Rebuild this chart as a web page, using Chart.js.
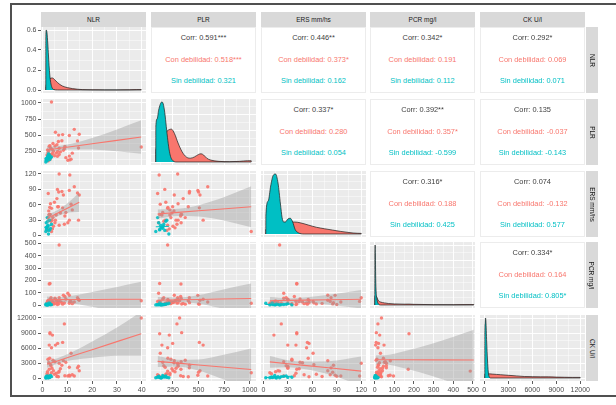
<!DOCTYPE html>
<html>
<head>
<meta charset="utf-8">
<script src="https://cdn.jsdelivr.net/npm/chart.js@4.4.1/dist/chart.umd.min.js"></script>
<style>
  html, body { margin: 0; padding: 0; background: #fff; width: 616px; height: 405px; overflow: hidden;
    font-family: "Liberation Sans", Arial, sans-serif; }
  #frame { position: absolute; left: 10px; top: 3px; width: 640px; height: 394px;
    border: 2px solid #505050; box-sizing: border-box; }
  canvas { position: absolute; }
  .strip { position: absolute; background: #D9D9D9; color: #1A1A1A; font-size: 6.5px;
    display: flex; align-items: center; justify-content: center; white-space: nowrap; }
  .strip.right span { display: block; transform: rotate(90deg); }
  .cor { position: absolute; background: #fff; border: 1px solid #ECECEC; box-sizing: border-box; }
  .cor div { position: absolute; left: 0; right: 0; text-align: center; font-size: 7.4px;
    line-height: 8px; white-space: nowrap; }
</style>
</head>
<body>
<div id="frame"></div>
<script>
// ---------------- data ----------------
const varNames = ['NLR', 'PLR', 'ERS mm/hs', 'PCR mg/l', 'CK U/l'];
const groupNames = ['Con debilidad', 'Sin debilidad'];

// patients "Con debilidad"
const conNLR = [39.8, 3.6, 8.8, 6.7, 2.7, 3.0, 4.0, 2.7, 3.6, 6.1, 8.1, 11.5, 14.5, 14.1, 12.8, 14.8, 10.8, 6.5, 6.7, 7.8, 8.4, 6.4, 10.8, 9.4, 10.2, 11.0, 2.2, 2.5, 3.2, 3.8, 4.4, 5.0, 5.5, 4.8, 2.9, 3.4, 5.8, 7.2, 4.2, 2.0, 9.0, 12.0, 6.0, 1.8, 3.0, 2.3, 5.2];
const conPLR = [315, 1015, 289, 198, 328, 335, 214, 142, 198, 247, 508, 126, 300, 410, 590, 514, 493, 500, 296, 412, 263, 400, 174, 150, 110, 115, 230, 260, 300, 280, 250, 330, 220, 180, 200, 160, 350, 240, 370, 270, 325, 220, 170, 190, 120, 100, 545];
const conERS = [null, 8, 22, 20, 41, 41, 13, 40, 53, 56, 54, 61, 30, 83, 95, 79, 88, 85, 120, 86, 79, 56, 30, 45, 25, 118, 35, 48, 62, 30, 18, 25, 40, 65, 55, 28, 72, 44, 35, 15, 38, 50, 90, 10, 41, 82, 30];
const conPCR = [35, 15, 17, 486, 171, 9, 26, 5, 17, 20, 8, 30, 45, 60, 25, 40, 79, 10, 60, 20, 80, 35, 15, 50, 96, 30, 12, 25, 18, 40, 22, 55, 30, 10, 45, 60, 14, 28, 8, 33, 70, 12, 5, 20, 175, 30, 48];
const conCK = [12000, 1100, 10830, 1430, 1800, 9080, 8600, 6610, 6090, 6950, 7140, 5000, 2400, 2080, 450, 1500, 600, 1200, 3000, 2600, 3500, 300, 2200, 3200, 450, 450, 3800, 3100, 2700, 2000, 1500, 3300, 1000, 800, 4000, 2500, 350, 1900, 3600, 1300, 500, 700, 400, 900, 8880, 700, 6610];

// patients "Sin debilidad"
const sinNLR = [1.3, 1.6, 1.8, 2.0, 2.2, 2.5, 1.5, 2.8, 3.2, 1.9, 2.4, 3.6, 1.4, 2.1, 2.9];
const sinPLR = [82, 120, 140, 155, 130, 170, 110, 190, 150, 100, 210, 160, 135, 180, 120];
const sinERS = [8, 12, 15, 18, 20, 10, 25, 30, 14, 35, 3, 22, 16, 28, 11];
const sinPCR = [2, 4, 3, 6, 1, 8, 5, 12, 3, 2, 15, 4, 9, 7, 18];
const sinCK = [120, 200, 150, 300, 90, 250, 400, 180, 550, 220, 100, 330, 60, 480, 140];

// axis breaks
const ticksNLR = [0, 10, 20, 30, 40];
const ticksPLR = [250, 500, 750, 1000];
const ticksERS = [0, 30, 60, 90, 120];
const ticksPCR = [0, 100, 200, 300, 400, 500];
const ticksCK = [0, 3000, 6000, 9000, 12000];
const ticksDensityNLR = [0, 0.2, 0.4, 0.6];

// kernel density curves [x, density]
const densNLRcon = [[1.3,0],[1.31,0.02],[1.8,0.06],[2.3,0.09],[3,0.115],[4,0.12],[5,0.1],[6,0.075],[7,0.055],[8,0.04],[10,0.024],[12,0.014],[14,0.008],[16,0.004],[20,0.002],[25,0.001],[30,0.001],[35,0.002],[38,0.004],[39.8,0.004],[39.81,0]];
const densNLRsin = [[1.3,0],[1.31,0.5],[1.5,0.6],[1.8,0.57],[2.1,0.47],[2.4,0.34],[2.7,0.22],[3.0,0.13],[3.4,0.06],[3.9,0.02],[4.5,0.005],[6,0],[39.8,0]];
const densPLRcon = [[82,0],[82.1,0.0018],[120,0.003],[160,0.0042],[200,0.005],[235,0.0052],[265,0.0045],[300,0.003],[340,0.0016],[380,0.0008],[420,0.0006],[460,0.0008],[500,0.0012],[525,0.0013],[550,0.0011],[580,0.0006],[620,0.0003],[700,0.0001],[800,0.00005],[900,0.0001],[980,0.0002],[1015,0.0002],[1015.1,0]];
const densPLRsin = [[82,0],[82.1,0.0055],[95,0.0068],[110,0.0082],[125,0.0091],[140,0.0095],[155,0.0092],[170,0.0078],[185,0.0056],[200,0.0034],[215,0.0017],[230,0.0007],[250,0.0002],[280,0],[1015,0]];
const densERScon = [[3,0],[3.1,0.003],[10,0.004],[20,0.006],[30,0.0075],[38,0.008],[45,0.0075],[55,0.006],[65,0.0045],[75,0.0035],[85,0.0026],[95,0.0017],[105,0.001],[115,0.0005],[120,0.0004],[120.1,0]];
const densERSsin = [[3,0],[3.1,0.012],[6,0.022],[9,0.032],[12,0.039],[15,0.04],[18,0.034],[21,0.02],[23,0.011],[25,0.008],[27,0.008],[30,0.01],[33,0.0105],[36,0.008],[39,0.003],[43,0.0008],[50,0],[120,0]];
const densPCRcon = [[1,0],[1.1,0.012],[5,0.016],[10,0.014],[15,0.01],[20,0.007],[30,0.005],[40,0.004],[50,0.0035],[70,0.0025],[100,0.0018],[150,0.0014],[175,0.0015],[200,0.0011],[300,0.0006],[400,0.0005],[480,0.0007],[504,0.0007],[504.1,0]];
const densPCRsin = [[1,0],[1.1,0.06],[2,0.095],[3,0.1],[4,0.085],[6,0.04],[8,0.022],[12,0.01],[16,0.004],[22,0.001],[30,0],[504,0]];
const densCKcon = [[60,0],[61,0.00012],[500,0.00014],[1000,0.00013],[1500,0.00012],[2000,0.00011],[3000,0.00009],[4000,0.00007],[5000,0.00005],[6000,0.000045],[7000,0.00004],[8000,0.00004],[9000,0.00003],[10000,0.000025],[11000,0.00002],[12000,0.00002],[12000.1,0]];
const densCKsin = [[60,0],[61,0.0013],[100,0.0018],[150,0.002],[200,0.0019],[300,0.0012],[400,0.0006],[500,0.0002],[600,0.00005],[800,0],[12000,0]];

// linear fits, "Con debilidad": [x, fitted, lower 95%, upper 95%]
const smoothNLR_PLR = [[1.8,269,219,319],[6,291,256,326],[12,323,278,368],[20,365,275,455],[30,418,248,588],[39.8,470,210,730]];
const smoothNLR_ERS = [[1.8,33,24,42],[5,41,35,47],[8,48.3,41.3,55.3],[11,55.7,44.7,66.7],[14.8,65,46,84]];
const smoothNLR_PCR = [[1.8,44,19,69],[6,44.5,26.5,62.5],[12,45,15,75],[20,46,-14,106],[30,47,-53,147],[39.8,48,-92,188]];
const smoothNLR_CK = [[1.8,2785,2085,3485],[6,3460,2910,4010],[12,4420,3620,5220],[20,5700,4100,7300],[30,7300,4500,10100],[39.8,8870,4470,13270]];
const smoothPLR_ERS = [[100,42,33,51],[300,45.2,38.2,52.2],[500,48.2,37.2,59.2],[700,51.2,31.2,71.2],[1015,56,16,96]];
const smoothPLR_PCR = [[100,40,15,65],[300,43,25,61],[500,46,11,81],[700,49,-21,119],[1015,54,-66,174]];
const smoothPLR_CK = [[100,3360,2260,4460],[300,3016,2316,3716],[500,2662,1562,3762],[700,2308,108,4508],[1015,1750,-2450,5950]];
const smoothERS_PCR = [[8,35,5,65],[30,38,20,56],[50,40.5,18.5,62.5],[80,44,4,84],[120,48,-27,123]];
const smoothERS_CK = [[8,3270,2120,4420],[30,2910,2210,3610],[50,2580,1830,3330],[80,2090,790,3390],[120,1430,-1470,4330]];
const smoothPCR_CK = [[5,3700,2800,4600],[50,3690,2790,4590],[150,3680,1980,5380],[300,3660,360,6960],[504,3640,-2360,9640]];

// linear fits, "Sin debilidad": [x, fitted]
const sinFitNLR_PLR = [[1.3,115],[3.6,185]];
const sinFitNLR_ERS = [[1.3,16],[3.6,20]];
const sinFitNLR_PCR = [[1.3,5],[3.6,8]];
const sinFitNLR_CK = [[1.3,200],[3.6,280]];
const sinFitPLR_ERS = [[82,17],[210,18]];
const sinFitPLR_PCR = [[82,12],[210,2]];
const sinFitPLR_CK = [[82,260],[210,200]];
const sinFitERS_PCR = [[3,5],[35,9]];
const sinFitERS_CK = [[3,150],[35,420]];
const sinFitPCR_CK = [[1,150],[18,480]];

// correlations (upper triangle): [row, column]
const corrPairs = [[0,1],[0,2],[0,3],[0,4],[1,2],[1,3],[1,4],[2,3],[2,4],[3,4]];
const corrAll = ['0.591***','0.446**','0.342*','0.292*','0.337*','0.392**','0.135','0.316*','0.074','0.334*'];
const corrCon = ['0.518***','0.373*','0.191','0.069','0.280','0.357*','-0.037','0.188','-0.132','0.164'];
const corrSin = ['0.321','0.162','0.112','0.071','0.054','-0.599','-0.143','0.425','0.577','0.805*'];

// ---------------- tables built from the arrays ----------------
const conData = [conNLR, conPLR, conERS, conPCR, conCK];
const sinData = [sinNLR, sinPLR, sinERS, sinPCR, sinCK];
const majorTicks = [ticksNLR, ticksPLR, ticksERS, ticksPCR, ticksCK];
const densCon = [densNLRcon, densPLRcon, densERScon, densPCRcon, densCKcon];
const densSin = [densNLRsin, densPLRsin, densERSsin, densPCRsin, densCKsin];
const smoothTable = {
  '0_1': smoothNLR_PLR, '0_2': smoothNLR_ERS, '0_3': smoothNLR_PCR, '0_4': smoothNLR_CK,
  '1_2': smoothPLR_ERS, '1_3': smoothPLR_PCR, '1_4': smoothPLR_CK,
  '2_3': smoothERS_PCR, '2_4': smoothERS_CK, '3_4': smoothPCR_CK
};
const sinFitTable = {
  '0_1': sinFitNLR_PLR, '0_2': sinFitNLR_ERS, '0_3': sinFitNLR_PCR, '0_4': sinFitNLR_CK,
  '1_2': sinFitPLR_ERS, '1_3': sinFitPLR_PCR, '1_4': sinFitPLR_CK,
  '2_3': sinFitERS_PCR, '2_4': sinFitERS_CK, '3_4': sinFitPCR_CK
};

// ---------------- layout ----------------
const COL_LEFT = [41, 151, 261, 370, 480];
const ROW_TOP = [27, 99, 171, 242, 315];
const PANEL_W = 105, PANEL_H = 66;
const AXIS_Y_W = 30, AXIS_X_H = 16, PAD = 10;
const RED = '#F8766D', TEAL = '#00BFC4';
const FONT = '"Liberation Sans", Arial, sans-serif';

function dataRange(k) {
  const all = conData[k].concat(sinData[k]).filter(v => v != null);
  const lo = Math.min(...all), hi = Math.max(...all), r = hi - lo;
  return [lo - 0.05 * r, hi + 0.05 * r];
}
const ranges = [0, 1, 2, 3, 4].map(dataRange);

const key = v => Math.round(v * 1e6);

function tickList(majors, min, max) {
  const step = majors[1] - majors[0], out = [];
  for (let k = -4; k <= (majors.length - 1) * 2 + 4; k++) {
    const v = Math.round((majors[0] + k * step / 2) * 1e6) / 1e6;
    if (v >= min && v <= max) out.push({ value: v, major: k % 2 === 0 });
  }
  return out;
}

function niceMajors(max) {
  const raw = max / 3, mag = Math.pow(10, Math.floor(Math.log10(raw)));
  const f = raw / mag;
  const step = (f < 1.5 ? 1 : f < 3 ? 2 : f < 4 ? 2.5 : f < 7 ? 5 : 10) * mag;
  const out = [];
  for (let n = 0; n * step <= max * 1.05; n++) out.push(Math.round(n * step * 1e9) / 1e9);
  return out;
}

function axis(pos, min, max, majors, showLabels, fmt) {
  const list = tickList(majors, min, max);
  const majorSet = new Set(list.filter(t => t.major).map(t => key(t.value)));
  const isMajor = c => c && c.tick && majorSet.has(key(c.tick.value));
  return {
    type: 'linear', position: pos, min, max, bounds: 'data',
    afterBuildTicks: s => { s.ticks = list.map(t => ({ value: t.value })); },
    afterFit: s => {
      if (pos === 'left') s.width = showLabels ? AXIS_Y_W : 0;
      else s.height = showLabels ? AXIS_X_H : 0;
    },
    border: { display: false },
    grid: {
      color: '#FFFFFF',
      lineWidth: c => isMajor(c) ? 0.95 : 0.45,
      drawTicks: showLabels, tickLength: 3, tickWidth: 0.8,
      tickColor: c => isMajor(c) ? '#333333' : 'rgba(0,0,0,0)'
    },
    ticks: {
      display: showLabels, autoSkip: false, maxRotation: 0, minRotation: 0, padding: 1.5,
      color: '#4D4D4D', font: { family: FONT, size: 7 },
      callback: v => majorSet.has(key(v)) ? fmt(v) : ''
    }
  };
}

const panelBg = {
  id: 'panelBg',
  beforeDraw(chart) {
    const { ctx, chartArea: a } = chart;
    ctx.save();
    ctx.fillStyle = '#EBEBEB';
    ctx.fillRect(a.left, a.top, a.width, a.height);
    ctx.restore();
  }
};

function densityDataset(curve, color, order) {
  return {
    data: curve.map(([x, y]) => ({ x, y })), backgroundColor: color, fill: 'origin',
    borderColor: 'rgba(35,35,35,0.9)', borderWidth: 0.8, pointRadius: 0,
    tension: 0.3, cubicInterpolationMode: 'monotone', order, clip: 0
  };
}

function pointDataset(xs, ys, color, order) {
  const pts = xs.map((x, n) => ({ x, y: ys[n] })).filter(p => p.x != null && p.y != null);
  return { data: pts, showLine: false, pointRadius: 1.7, pointBorderWidth: 0,
    pointBackgroundColor: color, backgroundColor: color, order };
}

function buildPanel(i, j) {
  const px = COL_LEFT[j], py = ROW_TOP[i];
  const axisL = j === 0, axisB = i === 4;
  const W = PANEL_W + 2 * PAD + (axisL ? AXIS_Y_W : 0);
  const H = PANEL_H + 2 * PAD + (axisB ? AXIS_X_H : 0);
  const cv = document.createElement('canvas');
  cv.width = W; cv.height = H;
  cv.style.left = (px - PAD - (axisL ? AXIS_Y_W : 0)) + 'px';
  cv.style.top = (py - PAD) + 'px';
  cv.style.width = W + 'px'; cv.style.height = H + 'px';
  document.body.appendChild(cv);

  const [xmin, xmax] = ranges[j];
  let ymin, ymax, yMajors, yFmt;
  const datasets = [];

  if (i === j) {
    const m = Math.max(...densCon[j].map(p => p[1]), ...densSin[j].map(p => p[1]));
    ymin = -0.05 * m; ymax = 1.05 * m;
    yMajors = j === 0 ? ticksDensityNLR : niceMajors(m);
    yFmt = v => v.toFixed(1);
    datasets.push(densityDataset(densSin[j], TEAL, 0), densityDataset(densCon[j], RED, 1));
  } else {
    [ymin, ymax] = ranges[i];
    yMajors = majorTicks[i];
    yFmt = v => String(v);
    const k = j + '_' + i;
    const sm = smoothTable[k], sf = sinFitTable[k];
    datasets.push(pointDataset(conData[j], conData[i], 'rgba(248,118,109,0.9)', 5));
    datasets.push(pointDataset(sinData[j], sinData[i], 'rgba(0,191,196,0.9)', 4));
    datasets.push({ data: sm.map(r => ({ x: r[0], y: r[2] })), borderWidth: 0, pointRadius: 0,
      fill: false, tension: 0.4, cubicInterpolationMode: 'monotone', order: 3, clip: 0 });
    datasets.push({ data: sm.map(r => ({ x: r[0], y: r[3] })), borderWidth: 0, pointRadius: 0,
      fill: '-1', backgroundColor: 'rgba(153,153,153,0.4)', tension: 0.4,
      cubicInterpolationMode: 'monotone', order: 3, clip: 0 });
    datasets.push({ data: sf.map(r => ({ x: r[0], y: r[1] })), borderColor: TEAL, borderWidth: 1,
      pointRadius: 0, fill: false, tension: 0, order: 2, clip: 0 });
    datasets.push({ data: sm.map(r => ({ x: r[0], y: r[1] })), borderColor: RED, borderWidth: 1.1,
      pointRadius: 0, fill: false, tension: 0, order: 1, clip: 0 });
  }

  new Chart(cv, {
    type: 'line',
    data: { datasets },
    options: {
      responsive: false, animation: false, devicePixelRatio: 1, events: [],
      layout: { padding: PAD },
      plugins: { legend: { display: false }, tooltip: { enabled: false } },
      scales: {
        x: axis('bottom', xmin, xmax, majorTicks[j], axisB, v => String(v)),
        y: axis('left', ymin, ymax, yMajors, axisL, yFmt)
      }
    },
    plugins: [panelBg]
  });
}

for (let i = 0; i < 5; i++)
  for (let j = 0; j <= i; j++) buildPanel(i, j);

// correlation panels
corrPairs.forEach(([r, c], n) => {
  const d = document.createElement('div');
  d.className = 'cor';
  d.style.left = COL_LEFT[c] + 'px'; d.style.top = ROW_TOP[r] + 'px';
  d.style.width = PANEL_W + 'px'; d.style.height = PANEL_H + 'px';
  const lines = [
    ['Corr: ' + corrAll[n], '#404040', 10],
    [groupNames[0] + ': ' + corrCon[n], RED, 31.5],
    [groupNames[1] + ': ' + corrSin[n], TEAL, 52.5]
  ];
  lines.forEach(([t, col, y]) => {
    const s = document.createElement('div');
    s.textContent = t; s.style.color = col; s.style.top = (y - 4) + 'px';
    d.appendChild(s);
  });
  document.body.appendChild(d);
});

// strips
varNames.forEach((name, j) => {
  const s = document.createElement('div');
  s.className = 'strip';
  s.style.left = COL_LEFT[j] + 'px'; s.style.top = '12px';
  s.style.width = PANEL_W + 'px'; s.style.height = '15px';
  s.textContent = name;
  document.body.appendChild(s);

  const r = document.createElement('div');
  r.className = 'strip right';
  r.style.left = '586px'; r.style.top = ROW_TOP[j] + 'px';
  r.style.width = '12px'; r.style.height = PANEL_H + 'px';
  const sp = document.createElement('span');
  sp.textContent = name;
  r.appendChild(sp);
  document.body.appendChild(r);
});
</script>
</body>
</html>
